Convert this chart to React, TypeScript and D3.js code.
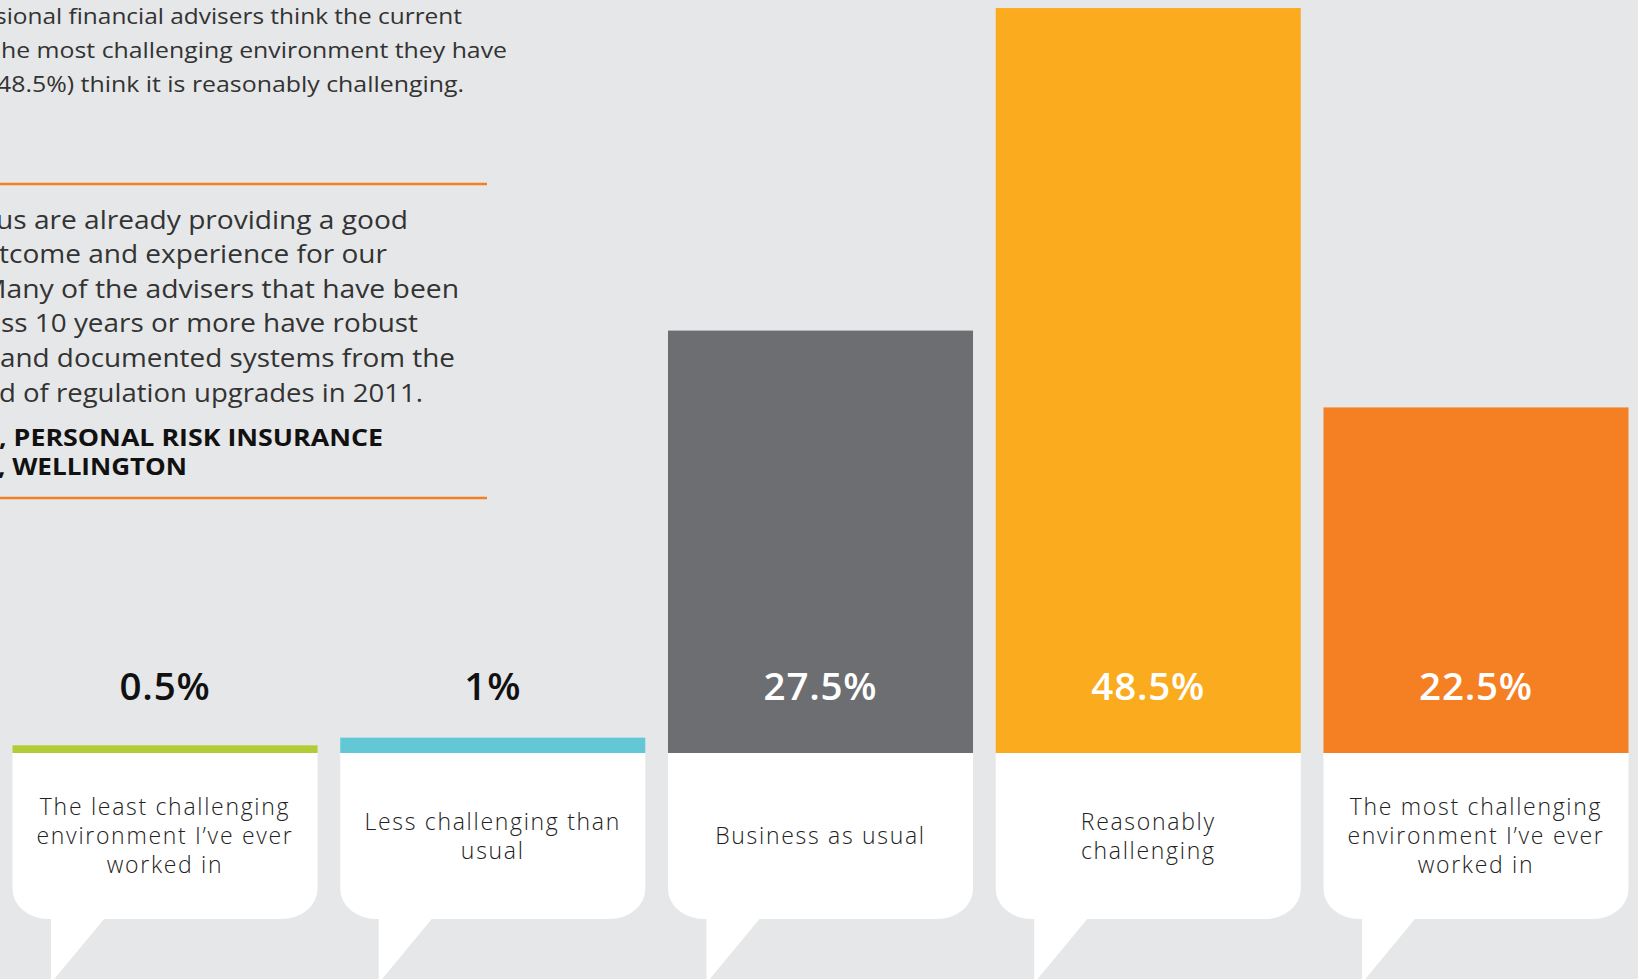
import React from "react";
import * as d3 from "d3";

// ---- data ----
const categories = [
  "The least challenging environment I’ve ever worked in",
  "Less challenging than usual",
  "Business as usual",
  "Reasonably challenging",
  "The most challenging environment I’ve ever worked in",
];
const categoryLines = [
  ["The least challenging", "environment I’ve ever", "worked in"],
  ["Less challenging than", "usual"],
  ["Business as usual"],
  ["Reasonably", "challenging"],
  ["The most challenging", "environment I’ve ever", "worked in"],
];
const values = [0.5, 1, 27.5, 48.5, 22.5];
const valueLabels = ["0.5%", "1%", "27.5%", "48.5%", "22.5%"];
const barColors = ["#b3cb36", "#63c8d6", "#6d6e72", "#fbab1e", "#f58024"];
const valueLabelColors = ["#111111", "#111111", "#ffffff", "#ffffff", "#ffffff"];

const introLines = [
  "sional financial advisers think the current",
  "he most challenging environment they have",
  "48.5%) think it is reasonably challenging.",
];
const quoteLines = [
  "us are already providing a good",
  "tcome and experience for our",
  "Many of the advisers that have been",
  "ss 10 years or more have robust",
  "and documented systems from the",
  "d of regulation upgrades in 2011.",
];
const attributionLines = [", PERSONAL RISK INSURANCE", ", WELLINGTON"];

// ---- layout ----
const W = 1638;
const H = 979;
const FONT = "'Open Sans', sans-serif";
const BASE_Y = 753;
const BOX_BOTTOM = 919;
const introX = [-5, 1, -3];
const introEnd = [462, 507, 464];
const introY = [24, 58, 92];
const quoteX = [-4, -1, -19, 1, 0, -1];
const quoteEnd = [408, 387, 459, 418, 455, 423];
const quoteY0 = 228.5;
const quoteStep = 34.6;
const attrX = [-1, -2];
const attrEnd = [383, 187];
const attrY = [446, 475];

function boxPath(x0: number, w: number) {
  const rx = 36, ry = 30;
  const tl = 38.5, tr = 91.5;
  const x1 = x0 + w;
  const tailBottom = BOX_BOTTOM + 64;
  return [
    `M${x0},${BASE_Y}`,
    `H${x1}`,
    `V${BOX_BOTTOM - ry}`,
    `A${rx},${ry} 0 0 1 ${x1 - rx},${BOX_BOTTOM}`,
    `H${x0 + tr}`,
    `L${x0 + tl},${tailBottom}`,
    `V${BOX_BOTTOM}`,
    `H${x0 + rx}`,
    `A${rx},${ry} 0 0 1 ${x0},${BOX_BOTTOM - ry}`,
    "Z",
  ].join(" ");
}

export default function App() {
  const x = d3
    .scaleBand<string>()
    .domain(categories)
    .range([12.5, 1628.5])
    .paddingInner(0.0693)
    .paddingOuter(0);
  const y = d3.scaleLinear().domain([0, 50]).range([BASE_Y, BASE_Y - 15.36 * 50]);
  const bw = x.bandwidth();

  return (
    <svg
      width={W}
      height={H}
      viewBox={`0 0 ${W} ${H}`}
      style={{ position: "absolute", left: 0, top: 0, display: "block" }}
    >
      <rect x={0} y={0} width={W} height={H} fill="#e6e7e8" />

      {/* intro paragraph */}
      {introLines.map((t, i) => (
        <text
          key={"i" + i}
          x={introX[i]}
          y={introY[i]}
          fontFamily={FONT}
          fontSize={22}
          fill="#333333"
          textLength={introEnd[i] - introX[i]}
          lengthAdjust="spacingAndGlyphs"
        >
          {t}
        </text>
      ))}

      {/* quote block */}
      <line x1={0} x2={487} y1={184} y2={184} stroke="#f58024" strokeWidth={2.6} />
      {quoteLines.map((t, i) => (
        <text
          key={"q" + i}
          x={quoteX[i]}
          y={quoteY0 + quoteStep * i}
          fontFamily={FONT}
          fontSize={25.5}
          fill="#333333"
          textLength={quoteEnd[i] - quoteX[i]}
          lengthAdjust="spacingAndGlyphs"
        >
          {t}
        </text>
      ))}
      {attributionLines.map((t, i) => (
        <text
          key={"a" + i}
          x={attrX[i]}
          y={attrY[i]}
          fontFamily={FONT}
          fontSize={23.5}
          fontWeight={700}
          fill="#111111"
          textLength={attrEnd[i] - attrX[i]}
          lengthAdjust="spacingAndGlyphs"
        >
          {t}
        </text>
      ))}
      <line x1={0} x2={487} y1={498} y2={498} stroke="#f58024" strokeWidth={2.6} />

      {/* bars */}
      {categories.map((c, i) => {
        const x0 = x(c)!;
        const cx = x0 + bw / 2;
        const lines = categoryLines[i];
        return (
          <g key={c}>
            <rect
              x={x0}
              y={y(values[i])}
              width={bw}
              height={BASE_Y - y(values[i])}
              fill={barColors[i]}
            />
            <path d={boxPath(x0, bw)} fill="#ffffff" />
            <text
              x={cx}
              y={700}
              textAnchor="middle"
              fontFamily={FONT}
              fontSize={38.5}
              fontWeight={600}
              letterSpacing={0.8}
              fill={valueLabelColors[i]}
            >
              {valueLabels[i]}
            </text>
            {lines.map((l, j) => (
              <text
                key={j}
                x={cx}
                y={844 + (j - (lines.length - 1) / 2) * 29}
                textAnchor="middle"
                fontFamily={FONT}
                fontSize={23}
                fontWeight={300}
                letterSpacing={1.7}
                fill="#222222"
              >
                {l}
              </text>
            ))}
          </g>
        );
      })}
    </svg>
  );
}
